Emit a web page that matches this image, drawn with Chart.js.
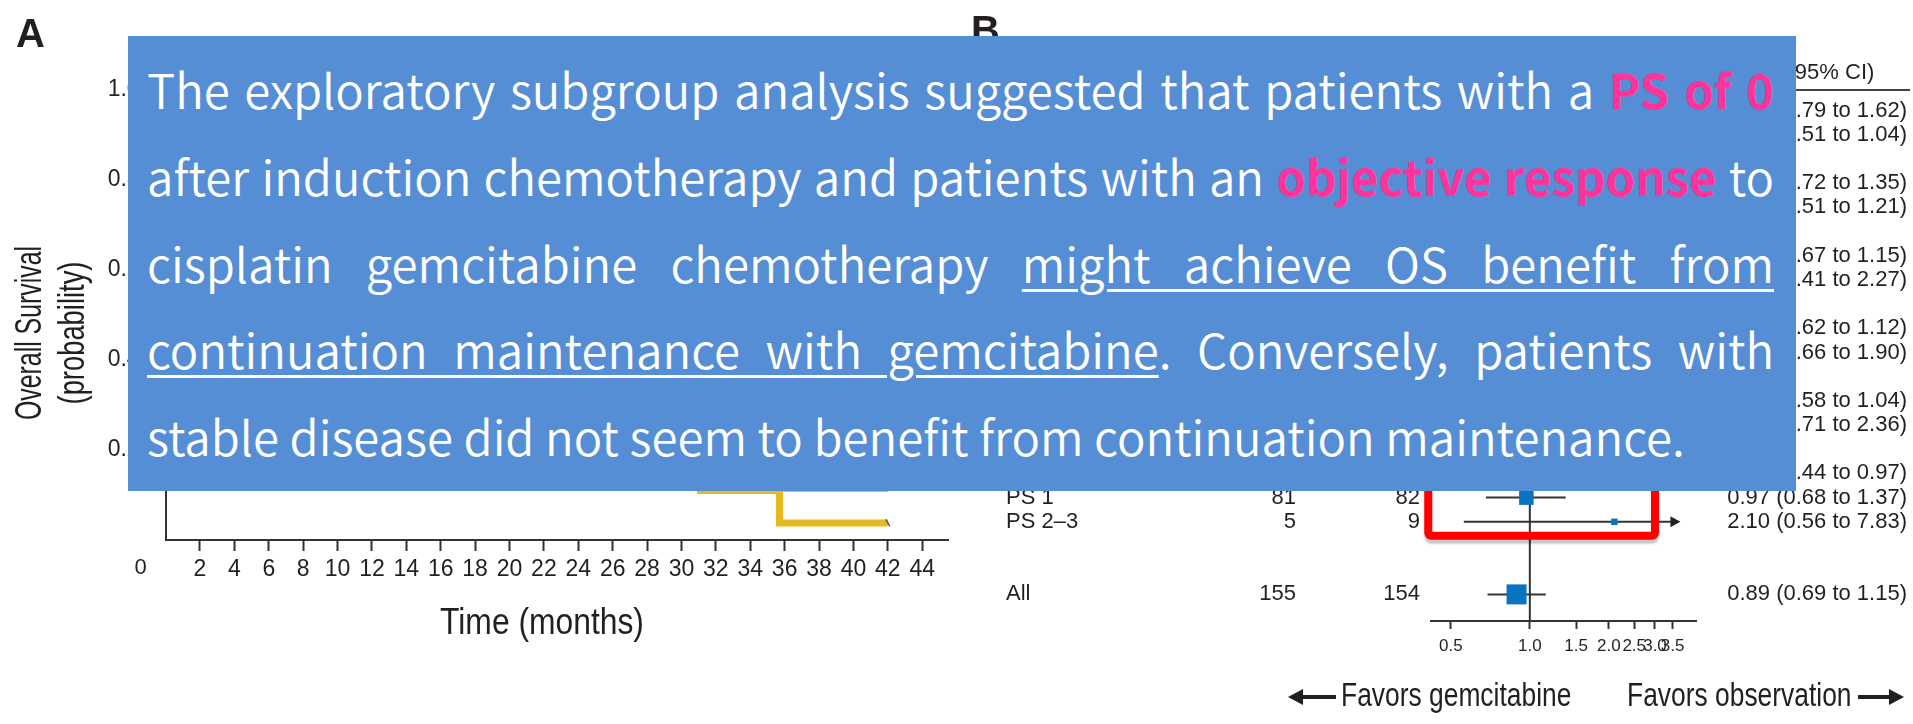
<!DOCTYPE html>
<html>
<head>
<meta charset="utf-8">
<title>Overall survival and subgroup forest plot</title>
<script src="https://cdn.jsdelivr.net/npm/chart.js@4.4.1/dist/chart.umd.min.js"></script>
<style>
  html, body { margin: 0; padding: 0; background: #fff; }
  body { width: 1913px; height: 724px; position: relative; overflow: hidden; }
  #km { position: absolute; left: 0; top: 0; }
  #forest { position: absolute; left: 960px; top: 0; }
  .panel { position: absolute; font-family: "Liberation Sans", Arial, sans-serif; font-weight: bold;
           font-size: 40px; line-height: 1; color: #231f20; }
  #note { position: absolute; left: 128px; top: 36px; width: 1668px; height: 455px;
          box-sizing: border-box; padding: 0 22px 0 19px; background: #558ed5; color: #fff;
          font-family: "Noto Sans CJK KR", "Noto Sans", sans-serif; font-weight: 350; font-size: 50px; }
  #note .ln { height: 86.75px; line-height: 86.75px; text-align: justify; text-align-last: justify; }
  #note .ln.last { text-align-last: left; }
  #note.measure .ln { white-space: nowrap; text-align-last: left; }
  #note b { color: #ff3399; font-weight: 700; }
  #note u { text-decoration-thickness: 3px; text-underline-offset: 6px; }
</style>
</head>
<body>
<canvas id="km" width="960" height="724"></canvas>
<canvas id="forest" width="953" height="724"></canvas>
<div class="panel" style="left:16px; top:13px;">A</div>
<div class="panel" style="left:971px; top:10px;">B</div>
<div id="note">
  <div class="ln"><span>The exploratory subgroup analysis suggested that patients with a <b>PS of 0</b></span></div>
  <div class="ln"><span>after induction chemotherapy and patients with an <b>objective response</b> to</span></div>
  <div class="ln"><span>cisplatin gemcitabine chemotherapy <u>might achieve OS benefit from</u></span></div>
  <div class="ln"><span><u>continuation maintenance with gemcitabine</u>. Conversely, patients with</span></div>
  <div class="ln last"><span>stable disease did not seem to benefit from continuation maintenance.</span></div>
</div>
<script>
// ---- panel A: Kaplan-Meier (most of it sits under the text box)
var kmTicks = [2, 4, 6, 8, 10, 12, 14, 16, 18, 20, 22, 24, 26, 28, 30, 32, 34, 36, 38, 40, 42, 44];
var survTicks = [0.2, 0.4, 0.6, 0.8, 1.0];
var gemMonths = [0, 1.5, 3, 4.5, 6, 7.5, 9, 10.5, 12, 13.5, 15, 17, 19, 21, 23, 25, 27, 29, 31.1, 35.7, 42];
var gemSurv = [1.0, 0.97, 0.9, 0.83, 0.74, 0.66, 0.58, 0.52, 0.46, 0.41, 0.36, 0.31, 0.27, 0.23, 0.2, 0.18, 0.16, 0.14, 0.11, 0.038, 0.038];
var obsMonths = [0, 1.5, 3, 4.5, 6, 7.5, 9, 10.5, 12, 13.5, 15, 17, 19, 21, 23, 26, 29, 31, 34.1, 42];
var obsSurv = [1.0, 0.95, 0.86, 0.77, 0.68, 0.6, 0.52, 0.46, 0.4, 0.35, 0.31, 0.27, 0.23, 0.2, 0.18, 0.16, 0.14, 0.13, 0.113, 0.113];

// ---- panel B: forest plot
var rowLabels = ['', '', '', '', '', '', '', '', '', '', 'PS 0', 'PS 1', 'PS 2\u20133', 'All'];
var rowSlots = [0, 1, 3, 4, 6, 7, 9, 10, 12, 13, 15, 16, 17, 20];
var nGem = [null, null, null, null, null, null, null, null, null, null, 69, 81, 5, 155];
var nObs = [null, null, null, null, null, null, null, null, null, null, 63, 82, 9, 154];
var hr = [1.13, 0.73, 0.99, 0.79, 0.88, 0.96, 0.83, 1.12, 0.78, 1.29, 0.65, 0.97, 2.10, 0.89];
var ciLow = [0.79, 0.51, 0.72, 0.51, 0.67, 0.41, 0.62, 0.66, 0.58, 0.71, 0.44, 0.68, 0.56, 0.69];
var ciHigh = [1.62, 1.04, 1.35, 1.21, 1.15, 2.27, 1.12, 1.90, 1.04, 2.36, 0.97, 1.37, 7.83, 1.15];
var forestTicks = [0.5, 1.0, 1.5, 2.0, 2.5, 3.0, 3.5];
var arrowCap = 3.75;

var ink = '#231f20';
var sans = '"Liberation Sans", Arial, sans-serif';

Chart.defaults.font.family = sans;
Chart.defaults.color = ink;

// the source figure uses a condensed face; squeeze plain text horizontally
function narrowText(c, text, x, y, align, sx) {
  c.save();
  c.translate(x, y);
  c.scale(sx, 1);
  c.textAlign = align;
  c.fillText(text, 0, 0);
  c.restore();
}

var kmExtras = {
  id: 'kmExtras',
  afterDraw: function (chart) {
    var c = chart.ctx, x = chart.scales.x, a = chart.chartArea;
    c.save();
    c.fillStyle = ink;
    c.font = '22px ' + sans;
    c.textAlign = 'center';
    c.textBaseline = 'middle';
    // origin label sits left of the axis, as in the source figure
    c.fillText('0', x.getPixelForValue(-1.45), a.bottom + 28);
    // axis titles, condensed
    c.font = '37px ' + sans;
    narrowText(c, 'Time (months)', 542, a.bottom + 84, 'center', 0.86);
    c.font = '36px ' + sans;
    [['Overall Survival', 31, 0.69], ['(probability)', 74, 0.76]].forEach(function (t) {
      c.save();
      c.translate(t[1], 333);
      c.rotate(-Math.PI / 2);
      narrowText(c, t[0], 0, 0, 'center', t[2]);
      c.restore();
    });
    c.restore();
  }
};

function kmPoints(months, surv) {
  return months.map(function (m, i) { return { x: m, y: surv[i] }; });
}

var lastGem = gemMonths.length - 1;

new Chart(document.getElementById('km'), {
  type: 'line',
  data: {
    datasets: [
      {
        label: 'Observation',
        data: kmPoints(obsMonths, obsSurv),
        borderColor: '#5db4e3',
        borderWidth: 5,
        stepped: true,
        pointRadius: 0,
        order: 2
      },
      {
        label: 'Gemcitabine',
        data: kmPoints(gemMonths, gemSurv),
        borderColor: '#e8b820',
        borderWidth: 7,
        stepped: true,
        pointStyle: 'line',
        rotation: 60,
        pointBorderColor: '#555',
        pointBorderWidth: 1.5,
        pointRadius: function (ctx) { return ctx.dataIndex === lastGem ? 4 : 0; },
        order: 1
      }
    ]
  },
  options: {
    responsive: false,
    animation: false,
    clip: false,
    layout: { padding: { top: 90, right: 12, bottom: 0, left: 0 } },
    plugins: { legend: { display: false }, tooltip: { enabled: false } },
    scales: {
      x: {
        type: 'linear',
        min: 0,
        max: 45.5,
        afterFit: function (s) { s.height = 184; },
        afterBuildTicks: function (s) { s.ticks = kmTicks.map(function (v) { return { value: v }; }); },
        ticks: { autoSkip: false, maxRotation: 0, padding: 5, font: { size: 23 }, color: ink },
        grid: { drawOnChartArea: false, tickLength: 11, tickWidth: 2, tickColor: '#333' },
        border: { color: '#333', width: 2 }
      },
      y: {
        min: 0,
        max: 1,
        afterFit: function (s) { s.width = 165.6; },
        afterBuildTicks: function (s) { s.ticks = survTicks.map(function (v) { return { value: v }; }); },
        ticks: { padding: 16, font: { size: 23 }, color: ink, callback: function (v) { return v.toFixed(1); } },
        grid: { drawOnChartArea: false, tickLength: 10, tickWidth: 2, tickColor: '#333' },
        border: { color: '#333', width: 2 }
      }
    }
  },
  plugins: [kmExtras]
});

// ---- forest plot
function arrowHead(c, x, y, dir, len, half) {
  c.beginPath();
  c.moveTo(x, y);
  c.lineTo(x - dir * len, y - half);
  c.lineTo(x - dir * len, y + half);
  c.closePath();
  c.fill();
}

var forestTable = {
  id: 'forestTable',
  beforeDatasetsDraw: function (chart) {
    var c = chart.ctx, x = chart.scales.x, y = chart.scales.y, a = chart.chartArea;
    c.save();
    c.strokeStyle = '#333';
    c.fillStyle = '#222';
    c.lineWidth = 2;
    var x1 = x.getPixelForValue(1);
    c.beginPath();
    c.moveTo(x1, a.top + 10);
    c.lineTo(x1, a.bottom);
    c.stroke();
    hr.forEach(function (v, i) {
      var py = y.getPixelForValue(rowSlots[i]);
      var hi = Math.min(ciHigh[i], arrowCap);
      var xr = x.getPixelForValue(hi);
      c.beginPath();
      c.moveTo(x.getPixelForValue(ciLow[i]), py);
      c.lineTo(ciHigh[i] > arrowCap ? xr - 8 : xr, py);
      c.stroke();
      if (ciHigh[i] > arrowCap) arrowHead(c, xr, py, 1, 10, 5.5);
    });
    c.restore();
  },
  afterDatasetsDraw: function (chart) {
    var c = chart.ctx, x = chart.scales.x, y = chart.scales.y;
    c.save();
    c.fillStyle = ink;
    c.font = '22px ' + sans;
    c.textBaseline = 'middle';
    rowLabels.forEach(function (lab, i) {
      var py = y.getPixelForValue(rowSlots[i]);
      c.textAlign = 'left';
      c.fillText(lab, 46, py);
      c.textAlign = 'right';
      if (nGem[i] !== null) c.fillText(String(nGem[i]), 336, py);
      if (nObs[i] !== null) c.fillText(String(nObs[i]), 460, py);
      c.fillText(hr[i].toFixed(2) + ' (' + ciLow[i].toFixed(2) + ' to ' + ciHigh[i].toFixed(2) + ')', 947, py);
    });
    // column header and rule
    c.textAlign = 'center';
    c.fillText('HR (95% CI)', 852, 73);
    c.strokeStyle = '#444';
    c.lineWidth = 2;
    c.beginPath();
    c.moveTo(15, 90);
    c.lineTo(950, 90);
    c.stroke();

    // highlight box around the PS subgroups
    var top = y.getPixelForValue(rowSlots[10] - 0.62);
    var bot = y.getPixelForValue(rowSlots[12] + 0.58);
    var left = x.getPixelForValue(0.41);
    var right = x.getPixelForValue(3.0);
    c.save();
    c.shadowColor = 'rgba(0,0,0,0.22)';
    c.shadowOffsetY = 4;
    c.shadowBlur = 2;
    c.strokeStyle = '#ff0000';
    c.lineWidth = 8;
    c.lineJoin = 'round';
    c.beginPath();
    c.roundRect(left, top, right - left, bot - top, 3);
    c.stroke();
    c.restore();

    // direction captions
    var fy = 697;
    c.font = '33px ' + sans;
    c.fillStyle = ink;
    c.strokeStyle = ink;
    c.lineWidth = 4;
    narrowText(c, 'Favors gemcitabine', 381, fy, 'left', 0.8);
    narrowText(c, 'Favors observation', 667, fy, 'left', 0.8);
    c.beginPath();
    c.moveTo(340, fy); c.lineTo(376, fy);
    c.moveTo(898, fy); c.lineTo(932, fy);
    c.stroke();
    arrowHead(c, 328, fy, -1, 15, 8);
    arrowHead(c, 944, fy, 1, 15, 8);
    c.restore();
  }
};

new Chart(document.getElementById('forest'), {
  type: 'scatter',
  data: {
    datasets: [{
      label: 'Hazard ratio',
      data: hr.map(function (v, i) { return { x: v, y: rowSlots[i] }; }),
      pointStyle: 'rect',
      backgroundColor: '#0a74c2',
      borderWidth: 0,
      pointRadius: function (ctx) {
        var i = ctx.dataIndex;
        var n = nGem[i] === null ? 120 : nGem[i] + nObs[i];
        var side = Math.max(6.5, 20 * Math.sqrt(n / 309));
        return side / Math.SQRT2;
      }
    }]
  },
  options: {
    responsive: false,
    animation: false,
    layout: { padding: { top: 90, right: 217, bottom: 0, left: 471 } },
    plugins: { legend: { display: false }, tooltip: { enabled: false } },
    scales: {
      x: {
        type: 'logarithmic',
        min: 0.42,
        max: 4.3,
        afterFit: function (s) { s.height = 103; },
        afterBuildTicks: function (s) { s.ticks = forestTicks.map(function (v) { return { value: v }; }); },
        ticks: { autoSkip: false, maxRotation: 0, padding: 7, font: { size: 17 }, color: ink,
                 callback: function (v) { return Number(v).toFixed(1); } },
        grid: { drawOnChartArea: false, tickLength: 8, tickWidth: 2, tickColor: '#333' },
        border: { color: '#333', width: 2 }
      },
      y: {
        display: false,
        reverse: true,
        min: -0.85,
        max: 21.1
      }
    }
  },
  plugins: [forestTable]
});

// ---- size the overlay text: last line keeps its natural width, justified lines must still fit
(function () {
  var note = document.getElementById('note');
  var lines = note.querySelectorAll('.ln > span');
  note.classList.add('measure');
  var probe = parseFloat(getComputedStyle(note).fontSize);
  var widths = Array.prototype.map.call(lines, function (s) { return s.getBoundingClientRect().width; });
  note.classList.remove('measure');
  var widest = Math.max.apply(null, widths.slice(0, 4));
  var size = probe * Math.min(1556 / widths[4], 1612 / widest);
  note.style.fontSize = size.toFixed(2) + 'px';
  var cv = document.createElement('canvas').getContext('2d');
  var cs = getComputedStyle(note);
  cv.font = cs.fontWeight + ' ' + size + 'px ' + cs.fontFamily;
  var m = cv.measureText('Thg');
  var asc = m.fontBoundingBoxAscent || size * 1.16;
  var desc = m.fontBoundingBoxDescent || size * 0.29;
  var base = (86.75 - asc - desc) / 2 + asc;
  note.style.paddingTop = (74 - base).toFixed(1) + 'px';
})();
</script>
</body>
</html>
